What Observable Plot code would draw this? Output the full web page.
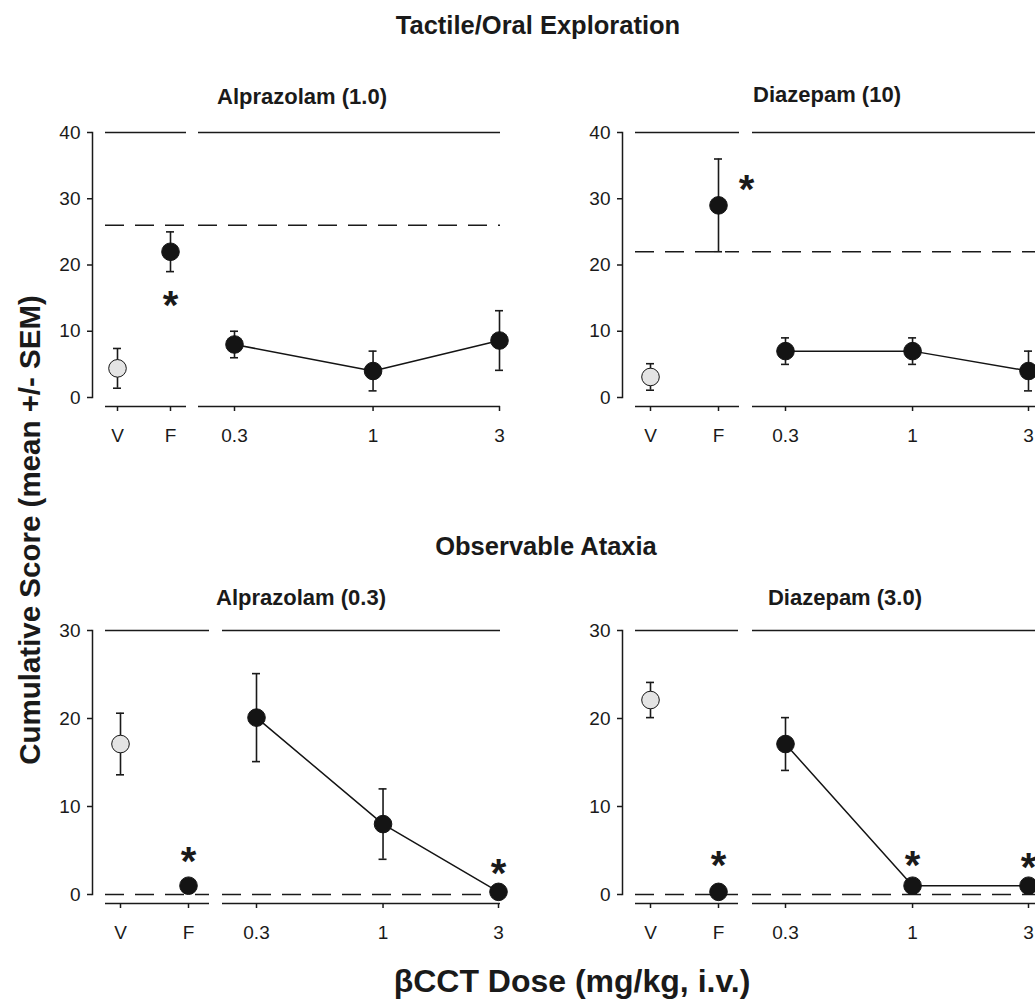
<!DOCTYPE html>
<html>
<head>
<meta charset="utf-8">
<script src="https://cdn.jsdelivr.net/npm/d3@7"></script>
<script src="https://cdn.jsdelivr.net/npm/@observablehq/plot@0.6"></script>
<style>
  html, body { margin: 0; padding: 0; background: #fff; }
  #fig { position: relative; width: 1035px; height: 1001px; overflow: hidden;
         font-family: "Liberation Sans", Arial, Helvetica, sans-serif; color: #222; }
  #fig svg { position: absolute; left: 0; top: 0; }
  .t { position: absolute; transform: translate(-50%, -50%); white-space: nowrap;
       font-weight: bold; line-height: 1.15; color: #1a1a1a; }
  .yl { position: absolute; white-space: nowrap; font-weight: bold; line-height: 1.15;
        transform: translate(-50%, -50%) rotate(-90deg); color: #1a1a1a; }
</style>
</head>
<body>
<div id="fig"></div>
<script>
// ---------- data ----------
const controls = ["V", "F"];
const doses = [0.3, 1, 3];
const doseTickLabels = ["0.3", "1", "3"];
const tactTicks = [0, 10, 20, 30, 40];
const atxTicks = [0, 10, 20, 30];

// Tactile/Oral Exploration — Alprazolam (1.0)
const tactAlpCtrlMean = [4.4, 22.0];
const tactAlpCtrlSem  = [3.0, 3.0];
const tactAlpCtrlStar = [null, 15.4];
const tactAlpDoseMean = [8.0, 4.0, 8.6];
const tactAlpDoseSem  = [2.0, 3.0, 4.5];
const tactAlpDoseStar = [null, null, null];
const tactAlpRef = 26;

// Tactile/Oral Exploration — Diazepam (10)
const tactDzpCtrlMean = [3.1, 29.0];
const tactDzpCtrlSem  = [2.0, 7.0];
const tactDzpCtrlStar = [null, 32.8];
const tactDzpDoseMean = [7.0, 7.0, 4.0];
const tactDzpDoseSem  = [2.0, 2.0, 3.0];
const tactDzpDoseStar = [null, null, null];
const tactDzpRef = 22;

// Observable Ataxia — Alprazolam (0.3)
const atxAlpCtrlMean = [17.1, 1.0];
const atxAlpCtrlSem  = [3.5, 0];
const atxAlpCtrlStar = [null, 4.8];
const atxAlpDoseMean = [20.1, 8.0, 0.3];
const atxAlpDoseSem  = [5.0, 4.0, 0];
const atxAlpDoseStar = [null, null, 3.5];
const atxAlpRef = 0;

// Observable Ataxia — Diazepam (3.0)
const atxDzpCtrlMean = [22.1, 0.3];
const atxDzpCtrlSem  = [2.0, 0];
const atxDzpCtrlStar = [null, 4.4];
const atxDzpDoseMean = [17.1, 1.0, 1.0];
const atxDzpDoseSem  = [3.0, 0, 0];
const atxDzpDoseStar = [null, 4.4, 4.2];
const atxDzpRef = 0;

// ---------- layout ----------
const W = 1035, H = 1001;
const FONT = "'Liberation Sans', Arial, Helvetica, sans-serif";
const INK = "#1a1a1a";

const panels = [
  { cm: tactAlpCtrlMean, cs: tactAlpCtrlSem, cst: tactAlpCtrlStar, dm: tactAlpDoseMean, ds: tactAlpDoseSem, dst: tactAlpDoseStar, ref: tactAlpRef,
    ticks: tactTicks, yMax: 40, yTop: 132, yZero: 397, axisX: 92, leftEnd: 186, rightStart: 198, rightEnd: 500,
    ctrlRange: [117, 170], doseRange: [234, 499], starDx: 0 },
  { cm: tactDzpCtrlMean, cs: tactDzpCtrlSem, cst: tactDzpCtrlStar, dm: tactDzpDoseMean, ds: tactDzpDoseSem, dst: tactDzpDoseStar, ref: tactDzpRef,
    ticks: tactTicks, yMax: 40, yTop: 132, yZero: 397, axisX: 622, leftEnd: 739, rightStart: 752, rightEnd: 1040,
    ctrlRange: [650, 718], doseRange: [785, 1028], starDx: 28 },
  { cm: atxAlpCtrlMean, cs: atxAlpCtrlSem, cst: atxAlpCtrlStar, dm: atxAlpDoseMean, ds: atxAlpDoseSem, dst: atxAlpDoseStar, ref: atxAlpRef,
    ticks: atxTicks, yMax: 30, yTop: 630, yZero: 894, axisX: 92, leftEnd: 209, rightStart: 222, rightEnd: 500,
    ctrlRange: [120, 188], doseRange: [256, 498], starDx: 0 },
  { cm: atxDzpCtrlMean, cs: atxDzpCtrlSem, cst: atxDzpCtrlStar, dm: atxDzpDoseMean, ds: atxDzpDoseSem, dst: atxDzpDoseStar, ref: atxDzpRef,
    ticks: atxTicks, yMax: 30, yTop: 630, yZero: 894, axisX: 622, leftEnd: 738, rightStart: 752, rightEnd: 1040,
    ctrlRange: [650, 718], doseRange: [785, 1028], starDx: 0 }
];

const fig = document.getElementById("fig");
const STAR = 40;
const baseStyle = { background: "transparent", overflow: "visible", fontFamily: FONT, fontSize: "19px", color: INK };
const hasErr = d => d.sem > 0;
const hasStar = d => d.star != null;

for (const p of panels) {
  const ctrl = controls.map((g, i) => ({ g, mean: p.cm[i], sem: p.cs[i], star: p.cst[i], fill: g === "V" ? "#e4e4e4" : "#141414" }));
  const dose = doses.map((d, i) => ({ d, mean: p.dm[i], sem: p.ds[i], star: p.dst[i] }));
  const yScale = { domain: [0, p.yMax], range: [p.yZero, p.yTop], label: null };

  // left part: vehicle / flumazenil (categorical)
  const left = Plot.plot({
    width: W, height: H,
    marginLeft: p.axisX, marginRight: W - p.leftEnd, marginTop: p.yTop, marginBottom: H - p.yZero,
    style: baseStyle,
    x: { type: "point", domain: controls, range: p.ctrlRange, padding: 0, label: null },
    y: yScale,
    color: { type: "identity" },
    marks: [
      Plot.frame({ anchor: "left", stroke: INK, strokeWidth: 1.5 }),
      Plot.axisY({ ticks: p.ticks, tickSize: 5, tickPadding: 7, strokeWidth: 1.5, fontSize: 19, label: null }),
      Plot.axisX({ dy: 9, tickSize: 5, tickPadding: 17, strokeWidth: 1.5, fontSize: 19, label: null }),
      Plot.ruleY([p.yMax], { insetLeft: 13, stroke: INK, strokeWidth: 1.5 }),
      Plot.ruleY([0], { dy: 9, insetLeft: 13, stroke: INK, strokeWidth: 1.5 }),
      Plot.ruleY([p.ref], { insetLeft: 13, stroke: INK, strokeWidth: 1.5, strokeDasharray: "19,11" }),
      Plot.ruleX(ctrl, { filter: hasErr, x: "g", y1: d => d.mean - d.sem, y2: d => d.mean + d.sem, stroke: INK, strokeWidth: 1.6 }),
      Plot.ruleY(ctrl, { filter: hasErr, x1: "g", x2: "g", y: d => d.mean + d.sem, insetLeft: -4, insetRight: -4, stroke: INK, strokeWidth: 1.6 }),
      Plot.ruleY(ctrl, { filter: hasErr, x1: "g", x2: "g", y: d => d.mean - d.sem, insetLeft: -4, insetRight: -4, stroke: INK, strokeWidth: 1.6 }),
      Plot.dot(ctrl, { x: "g", y: "mean", r: 8.8, fill: "fill", stroke: "#141414", strokeWidth: 1 }),
      Plot.text(ctrl, { filter: hasStar, x: "g", y: "star", text: () => "*", fontSize: STAR, fontWeight: "bold", fill: INK, dy: STAR * 0.26, dx: p.starDx })
    ]
  });

  // right part: βCCT doses (log scale)
  const right = Plot.plot({
    width: W, height: H,
    marginLeft: p.rightStart, marginRight: W - p.rightEnd, marginTop: p.yTop, marginBottom: H - p.yZero,
    style: baseStyle,
    x: { type: "log", domain: [0.3, 3], range: p.doseRange, label: null },
    y: { ...yScale, axis: null },
    marks: [
      Plot.axisX({ ticks: doses, tickFormat: d => doseTickLabels[doses.indexOf(d)], dy: 9, tickSize: 5, tickPadding: 17, strokeWidth: 1.5, fontSize: 19, label: null }),
      Plot.ruleY([p.yMax], { stroke: INK, strokeWidth: 1.5 }),
      Plot.ruleY([0], { dy: 9, stroke: INK, strokeWidth: 1.5 }),
      Plot.ruleY([p.ref], { stroke: INK, strokeWidth: 1.5, strokeDasharray: "19,11" }),
      Plot.line(dose, { x: "d", y: "mean", stroke: "#141414", strokeWidth: 1.5 }),
      Plot.ruleX(dose, { filter: hasErr, x: "d", y1: d => d.mean - d.sem, y2: d => d.mean + d.sem, stroke: INK, strokeWidth: 1.6 }),
      Plot.ruleY(dose, { filter: hasErr, x1: "d", x2: "d", y: d => d.mean + d.sem, insetLeft: -4, insetRight: -4, stroke: INK, strokeWidth: 1.6 }),
      Plot.ruleY(dose, { filter: hasErr, x1: "d", x2: "d", y: d => d.mean - d.sem, insetLeft: -4, insetRight: -4, stroke: INK, strokeWidth: 1.6 }),
      Plot.dot(dose, { x: "d", y: "mean", r: 8.8, fill: "#141414", stroke: "#141414", strokeWidth: 1 }),
      Plot.text(dose, { filter: hasStar, x: "d", y: "star", text: () => "*", fontSize: STAR, fontWeight: "bold", fill: INK, dy: STAR * 0.26 })
    ]
  });

  fig.appendChild(left);
  fig.appendChild(right);
}

// ---------- titles ----------
const labels = [
  { text: "Tactile/Oral Exploration", x: 538, y: 26, size: 25.5, cls: "t" },
  { text: "Alprazolam (1.0)", x: 302, y: 97, size: 22, cls: "t" },
  { text: "Diazepam (10)", x: 827, y: 95, size: 22, cls: "t" },
  { text: "Observable Ataxia", x: 546, y: 547, size: 25.5, cls: "t" },
  { text: "Alprazolam (0.3)", x: 301, y: 598, size: 22, cls: "t" },
  { text: "Diazepam (3.0)", x: 845, y: 598, size: 22, cls: "t" },
  { text: "Cumulative Score (mean +/- SEM)", x: 30, y: 530, size: 29.5, cls: "yl" },
  { text: "βCCT Dose (mg/kg, i.v.)", x: 572, y: 981, size: 32, cls: "t" }
];
for (const l of labels) {
  const el = document.createElement("div");
  el.className = l.cls;
  el.textContent = l.text;
  el.style.left = l.x + "px";
  el.style.top = l.y + "px";
  el.style.fontSize = l.size + "px";
  fig.appendChild(el);
}
</script>
</body>
</html>
